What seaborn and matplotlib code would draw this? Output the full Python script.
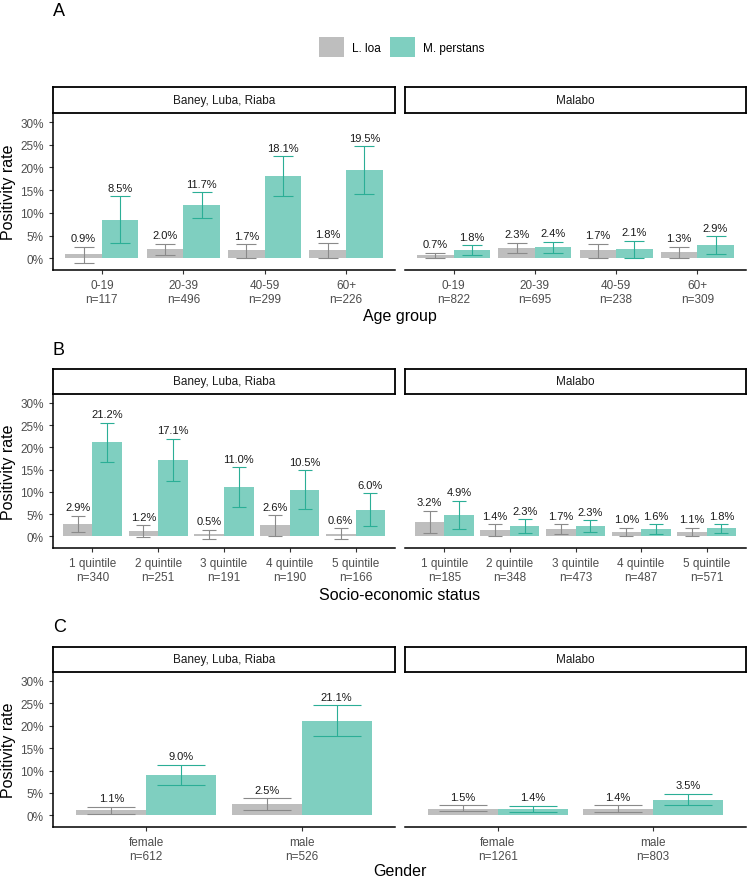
import matplotlib
matplotlib.use("Agg")
import matplotlib.pyplot as plt
from matplotlib.patches import Patch
from matplotlib.ticker import PercentFormatter
import seaborn as sns
import pandas as pd

species = ["L. loa", "M. perstans"]
regions = ["Baney, Luba, Riaba", "Malabo"]

# panel A - age group
age_groups = ["0-19", "20-39", "40-59", "60+"]
age_n = {"Baney, Luba, Riaba": [117, 496, 299, 226], "Malabo": [822, 695, 238, 309]}
age_loa = {"Baney, Luba, Riaba": [0.9, 2.0, 1.7, 1.8], "Malabo": [0.7, 2.3, 1.7, 1.3]}
age_loa_lo = {"Baney, Luba, Riaba": [-0.95, 0.7, 0.15, 0.0], "Malabo": [0.15, 1.1, 0.0, 0.0]}
age_loa_hi = {"Baney, Luba, Riaba": [2.5, 3.2, 3.1, 3.45], "Malabo": [1.25, 3.45, 3.2, 2.5]}
age_mp = {"Baney, Luba, Riaba": [8.5, 11.7, 18.1, 19.5], "Malabo": [1.8, 2.4, 2.1, 2.9]}
age_mp_lo = {"Baney, Luba, Riaba": [3.4, 8.9, 13.7, 14.2], "Malabo": [0.8, 1.25, 0.15, 1.0]}
age_mp_hi = {"Baney, Luba, Riaba": [13.6, 14.5, 22.5, 24.7], "Malabo": [2.8, 3.6, 3.9, 4.8]}

# panel B - socio-economic status
ses_groups = ["1 quintile", "2 quintile", "3 quintile", "4 quintile", "5 quintile"]
ses_n = {"Baney, Luba, Riaba": [340, 251, 191, 190, 166], "Malabo": [185, 348, 473, 487, 571]}
ses_loa = {"Baney, Luba, Riaba": [2.9, 1.2, 0.5, 2.6, 0.6], "Malabo": [3.2, 1.4, 1.7, 1.0, 1.1]}
ses_loa_lo = {"Baney, Luba, Riaba": [1.1, -0.15, -0.6, 0.2, -0.6], "Malabo": [0.8, 0.2, 0.5, 0.2, 0.2]}
ses_loa_hi = {"Baney, Luba, Riaba": [4.7, 2.5, 1.5, 4.8, 1.8], "Malabo": [5.8, 2.7, 2.75, 1.9, 1.9]}
ses_mp = {"Baney, Luba, Riaba": [21.2, 17.1, 11.0, 10.5, 6.0], "Malabo": [4.9, 2.3, 2.3, 1.6, 1.8]}
ses_mp_lo = {"Baney, Luba, Riaba": [16.8, 12.5, 6.55, 6.1, 2.3], "Malabo": [1.6, 0.8, 1.0, 0.5, 0.8]}
ses_mp_hi = {"Baney, Luba, Riaba": [25.5, 21.9, 15.5, 14.9, 9.7], "Malabo": [8.0, 3.9, 3.6, 2.75, 2.75]}

# panel C - gender
sex_groups = ["female", "male"]
sex_n = {"Baney, Luba, Riaba": [612, 526], "Malabo": [1261, 803]}
sex_loa = {"Baney, Luba, Riaba": [1.1, 2.5], "Malabo": [1.5, 1.4]}
sex_loa_lo = {"Baney, Luba, Riaba": [0.4, 1.2], "Malabo": [0.9, 0.7]}
sex_loa_hi = {"Baney, Luba, Riaba": [1.9, 3.8], "Malabo": [2.2, 2.2]}
sex_mp = {"Baney, Luba, Riaba": [9.0, 21.1], "Malabo": [1.4, 3.5]}
sex_mp_lo = {"Baney, Luba, Riaba": [6.7, 17.7], "Malabo": [0.8, 2.2]}
sex_mp_hi = {"Baney, Luba, Riaba": [11.3, 24.6], "Malabo": [2.1, 4.8]}

fill_colors = {"L. loa": "#BEBEBE", "M. perstans": "#7FCFC0"}
err_colors = {"L. loa": "#8A8A8A", "M. perstans": "#2BAE96"}

plt.rcParams["font.family"] = ["Liberation Sans", "DejaVu Sans"]

W, H = 747, 879
fig = plt.figure(figsize=(W / 100, H / 100), dpi=100)


def px_axes(x0, y0, x1, y1):
    return fig.add_axes([x0 / W, 1 - y1 / H, (x1 - x0) / W, (y1 - y0) / H])


def make_df(groups, n, loa, loa_lo, loa_hi, mp, mp_lo, mp_hi, region):
    rows = []
    for i, g in enumerate(groups):
        lab = f"{g}\nn={n[region][i]}"
        rows.append((lab, "L. loa", loa[region][i], loa_lo[region][i], loa_hi[region][i]))
        rows.append((lab, "M. perstans", mp[region][i], mp_lo[region][i], mp_hi[region][i]))
    df = pd.DataFrame(rows, columns=["group", "species", "rate", "lo", "hi"])
    df[["rate", "lo", "hi"]] /= 100
    return df


rows_spec = [
    dict(letter="A", letter_y=12, strip=(88, 114), plot_bottom=271, xlabel="Age group", xlabel_y=317,
         capsize=7, data=(age_groups, age_n, age_loa, age_loa_lo, age_loa_hi, age_mp, age_mp_lo, age_mp_hi)),
    dict(letter="B", letter_y=351, strip=(370, 395), plot_bottom=549, xlabel="Socio-economic status", xlabel_y=595,
         capsize=5, data=(ses_groups, ses_n, ses_loa, ses_loa_lo, ses_loa_hi, ses_mp, ses_mp_lo, ses_mp_hi)),
    dict(letter="C", letter_y=628, strip=(648, 673), plot_bottom=828, xlabel="Gender", xlabel_y=872,
         capsize=17, data=(sex_groups, sex_n, sex_loa, sex_loa_lo, sex_loa_hi, sex_mp, sex_mp_lo, sex_mp_hi)),
]
cols = [(53, 395), (405, 746)]

for spec in rows_spec:
    s_top, s_bot = spec["strip"]
    for c, region in enumerate(regions):
        x0, x1 = cols[c]
        # strip
        sax = px_axes(x0, s_top, x1, s_bot)
        sax.set_xticks([])
        sax.set_yticks([])
        for sp in sax.spines.values():
            sax.spines
            sp.set_linewidth(1.3)
            sp.set_color("black")
        sax.text(0.5, 0.5, region, ha="center", va="center", fontsize=8.5, color="#1A1A1A",
                 transform=sax.transAxes)

        ax = px_axes(x0, s_bot, x1, spec["plot_bottom"])
        df = make_df(*spec["data"], region)
        sns.barplot(data=df, x="group", y="rate", hue="species", hue_order=species,
                    palette=fill_colors, width=0.9, errorbar=None, legend=False,
                    saturation=1, ax=ax)
        n_groups = df["group"].nunique()
        for k, sp_name in enumerate(species):
            sub = df[df["species"] == sp_name].reset_index(drop=True)
            bars = ax.containers[k]
            xs = [b.get_x() + b.get_width() / 2 for b in bars]
            ax.errorbar(xs, sub["rate"], yerr=[sub["rate"] - sub["lo"], sub["hi"] - sub["rate"]],
                        fmt="none", ecolor=err_colors[sp_name], elinewidth=0.8,
                        capsize=spec["capsize"], capthick=0.8)
            for xv, r, hi in zip(xs, sub["rate"], sub["hi"]):
                ax.annotate(f"{r * 100:.1f}%", (xv, hi), xytext=(0, 2.5),
                            textcoords="offset points", ha="center", va="bottom",
                            fontsize=8, color="#1A1A1A")
        ax.set_xlim(-0.6, n_groups - 0.4)
        ax.set_ylim(-0.026, 0.32)
        ax.set_yticks([0, 0.05, 0.10, 0.15, 0.20, 0.25, 0.30])
        ax.yaxis.set_major_formatter(PercentFormatter(xmax=1, decimals=0))
        ax.set_xlabel("")
        ax.set_ylabel("")
        ax.spines["top"].set_visible(False)
        ax.spines["right"].set_visible(False)
        ax.spines["bottom"].set_linewidth(1.1)
        ax.spines["left"].set_linewidth(1.1)
        ax.tick_params(axis="both", labelsize=8.5, labelcolor="#4D4D4D", color="#333333",
                       length=3, width=0.8)
        if c == 1:
            ax.spines["left"].set_visible(False)
            ax.tick_params(axis="y", left=False, labelleft=False)
        ax.patch.set_alpha(0)

    ymid = (s_bot + spec["plot_bottom"]) / 2
    fig.text(9 / W, 1 - ymid / H, "Positivity rate", rotation=90, ha="center", va="center", fontsize=11.5)
    fig.text(400 / W, 1 - spec["xlabel_y"] / H, spec["xlabel"], ha="center", va="center", fontsize=11.5)
    fig.text(53 / W, 1 - spec["letter_y"] / H, spec["letter"], ha="left", va="center", fontsize=13)

handles = [Patch(facecolor=fill_colors[s], edgecolor="none") for s in species]
fig.legend(handles, species, loc="center", bbox_to_anchor=(402 / W, 1 - 48 / H), ncol=2, frameon=False,
           fontsize=8.5, handlelength=2.1, handleheight=2.1, handletextpad=0.7, columnspacing=0.8)

fig.savefig("out.png", dpi=100)
